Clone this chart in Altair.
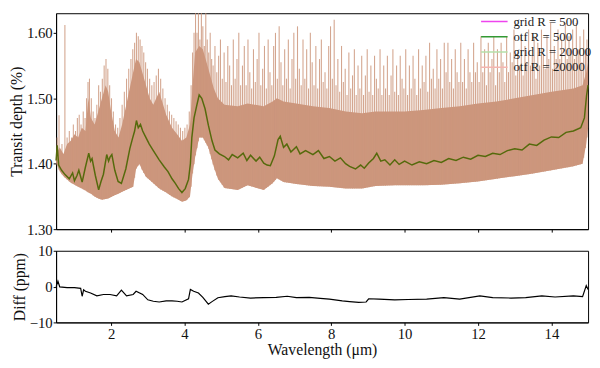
import altair as alt
import pandas as pd
import numpy as np

# ---------------- data ----------------
# R = 500 spectrum (grid and otf overlap -> one dark olive line)
w500 = [0.50, 0.53, 0.57, 0.65, 0.75, 0.86, 0.95, 1.00, 1.07, 1.12, 1.21, 1.30, 1.39, 1.44, 1.48,
        1.57, 1.66, 1.72, 1.79, 1.88, 1.93, 1.97, 2.02, 2.10, 2.19, 2.28, 2.40, 2.51, 2.58, 2.64,
        2.69, 2.74, 2.80, 2.86, 2.95, 3.04, 3.15, 3.31, 3.45, 3.55, 3.66, 3.75, 3.84, 3.93, 4.02,
        4.11, 4.16, 4.20, 4.26, 4.33, 4.40, 4.47, 4.56, 4.65, 4.75, 4.83, 4.95, 5.09, 5.20, 5.30,
        5.45, 5.60, 5.70, 5.80, 5.95, 6.05, 6.16, 6.25, 6.34, 6.45, 6.55, 6.61, 6.70, 6.79, 6.90,
        7.05, 7.15, 7.30, 7.50, 7.65, 7.80, 7.95, 8.10, 8.25, 8.39, 8.50, 8.66, 8.80, 8.90, 9.02,
        9.15, 9.24, 9.35, 9.46, 9.60, 9.73, 9.85, 10.0, 10.2, 10.4, 10.6, 10.8, 11.0, 11.2, 11.4,
        11.6, 11.8, 12.0, 12.2, 12.4, 12.6, 12.8, 13.0, 13.2, 13.4, 13.6, 13.8, 14.0, 14.2, 14.4,
        14.6, 14.8, 14.9, 14.96, 15.0]
v500 = [1.405, 1.428, 1.398, 1.390, 1.383, 1.377, 1.386, 1.374, 1.382, 1.390, 1.372, 1.395, 1.416, 1.404, 1.408,
        1.382, 1.360, 1.372, 1.384, 1.414, 1.404, 1.410, 1.414, 1.390, 1.373, 1.370, 1.392, 1.423, 1.438, 1.450,
        1.466, 1.455, 1.460, 1.450, 1.440, 1.430, 1.420, 1.406, 1.395, 1.388, 1.377, 1.370, 1.362, 1.356, 1.362,
        1.376, 1.400, 1.440, 1.470, 1.488, 1.505, 1.500, 1.484, 1.459, 1.435, 1.421, 1.415, 1.411, 1.406, 1.414,
        1.409, 1.416, 1.405, 1.413, 1.404, 1.410, 1.401, 1.398, 1.397, 1.412, 1.437, 1.442, 1.425, 1.430, 1.418,
        1.426, 1.415, 1.420, 1.414, 1.420, 1.408, 1.411, 1.404, 1.409, 1.400, 1.396, 1.392, 1.398, 1.393, 1.401,
        1.408, 1.416, 1.404, 1.406, 1.398, 1.406, 1.399, 1.404, 1.398, 1.403, 1.400, 1.405, 1.402, 1.408, 1.405,
        1.410, 1.407, 1.413, 1.411, 1.416, 1.414, 1.420, 1.423, 1.421, 1.430, 1.428, 1.436, 1.441, 1.440, 1.448,
        1.450, 1.455, 1.470, 1.505, 1.520]

# R = 20000 spectra: dense band (lower / upper envelope of the solid part)
band_w = [0.50, 0.60, 0.70, 0.80, 0.90, 1.00, 1.10, 1.20, 1.30, 1.38, 1.45, 1.55, 1.65, 1.75, 1.85,
          1.92, 2.00, 2.10, 2.20, 2.30, 2.45, 2.60, 2.68, 2.77, 2.85, 2.95, 3.05, 3.15, 3.31, 3.50,
          3.66, 3.80, 3.93, 4.05, 4.15, 4.22, 4.29, 4.40, 4.50, 4.65, 4.80, 4.91, 5.09, 5.45, 5.72,
          6.16, 6.40, 6.52, 6.70, 7.05, 7.50, 7.94, 8.40, 8.84, 9.20, 9.73, 10.0, 10.5, 11.0, 11.5,
          12.0, 12.5, 13.0, 13.5, 14.0, 14.6, 14.85, 14.95, 15.0]
band_lo = [1.402, 1.388, 1.381, 1.376, 1.371, 1.368, 1.365, 1.362, 1.359, 1.356, 1.354, 1.350, 1.347, 1.345, 1.346,
           1.347, 1.349, 1.352, 1.354, 1.357, 1.361, 1.365, 1.392, 1.400, 1.390, 1.380, 1.375, 1.370, 1.362, 1.356,
           1.350, 1.346, 1.342, 1.344, 1.350, 1.385, 1.410, 1.440, 1.440, 1.425, 1.395, 1.377, 1.363, 1.360, 1.367,
           1.360, 1.370, 1.378, 1.372, 1.369, 1.366, 1.365, 1.362, 1.362, 1.366, 1.367, 1.367, 1.367, 1.368, 1.370,
           1.373, 1.377, 1.381, 1.385, 1.390, 1.396, 1.400, 1.430, 1.455]
band_hi = [1.415, 1.425, 1.415, 1.430, 1.435, 1.445, 1.440, 1.455, 1.450, 1.500, 1.470, 1.460, 1.480, 1.500, 1.520,
           1.510, 1.480, 1.450, 1.440, 1.460, 1.500, 1.540, 1.560, 1.555, 1.540, 1.520, 1.500, 1.490, 1.510, 1.475,
           1.455, 1.445, 1.435, 1.440, 1.460, 1.520, 1.570, 1.580, 1.575, 1.545, 1.515, 1.500, 1.490, 1.488, 1.492,
           1.488, 1.495, 1.500, 1.495, 1.492, 1.488, 1.485, 1.480, 1.477, 1.480, 1.480, 1.480, 1.482, 1.485, 1.488,
           1.492, 1.495, 1.500, 1.505, 1.510, 1.515, 1.520, 1.540, 1.555]

# narrow line spikes of the R = 20000 spectra
spike_w = [0.53, 0.58, 0.66, 0.74, 0.80, 0.86, 0.92, 0.97, 1.03, 1.08, 1.13, 1.18, 1.24, 1.29, 1.33,
           1.37, 1.41, 1.46, 1.51, 1.56, 1.61, 1.66, 1.71, 1.76, 1.81, 1.86, 1.91, 1.96, 2.01, 2.06,
           2.12, 2.18, 2.24, 2.30, 2.36, 2.42, 2.48, 2.54, 2.59, 2.64, 2.69, 2.74, 2.79, 2.84, 2.89,
           2.94, 2.99, 3.05, 3.11, 3.17, 3.23, 3.29, 3.35, 3.41, 3.47, 3.53, 3.59, 3.65, 3.71, 3.77,
           3.83, 3.89, 3.95, 4.01, 4.07, 4.13, 4.18,
           4.22, 4.26, 4.30, 4.34, 4.38, 4.42, 4.46, 4.50, 4.54, 4.58, 4.62, 4.66, 4.70, 4.74, 4.78,
           4.83, 4.88, 4.93, 4.98, 5.03, 5.08, 5.13, 5.18, 5.23, 5.28, 5.33, 5.38, 5.43, 5.48, 5.53,
           5.58, 5.63, 5.68, 5.73, 5.78, 5.83, 5.88, 5.93, 5.98, 6.03, 6.08, 6.13, 6.18, 6.23, 6.28,
           6.33, 6.38, 6.43, 6.48, 6.53, 6.58, 6.63, 6.68, 6.73, 6.78, 6.83, 6.88, 6.93, 6.98, 7.03,
           7.08, 7.13, 7.18, 7.23, 7.28, 7.33, 7.38, 7.43, 7.48, 7.53, 7.58, 7.63, 7.68, 7.73, 7.78,
           7.83, 7.88, 7.93, 7.98, 8.03, 8.08, 8.13, 8.18, 8.23, 8.28, 8.33, 8.38, 8.43, 8.48, 8.53,
           8.58, 8.63, 8.68, 8.73, 8.78, 8.83, 8.88, 8.93, 8.98, 9.03, 9.08, 9.13, 9.18, 9.23, 9.28,
           9.33, 9.38, 9.43, 9.48, 9.53, 9.58, 9.63, 9.68, 9.73, 9.78, 9.83, 9.88, 9.93, 9.98, 10.03,
           10.08, 10.13, 10.18, 10.23, 10.28, 10.33, 10.38, 10.43, 10.48, 10.53, 10.58, 10.63, 10.68, 10.73, 10.78,
           10.83, 10.88, 10.93, 10.98, 11.03, 11.08, 11.13, 11.18, 11.23, 11.28, 11.33, 11.38, 11.43, 11.48, 11.53,
           11.58, 11.63, 11.68, 11.73, 11.78, 11.83, 11.88, 11.93, 11.98, 12.03, 12.08, 12.13, 12.18, 12.23, 12.28,
           12.33, 12.38, 12.43, 12.48, 12.53, 12.58, 12.63, 12.68, 12.73, 12.78, 12.83, 12.88, 12.93, 12.98, 13.03,
           13.08, 13.13, 13.18, 13.23, 13.28, 13.33, 13.38, 13.43, 13.48, 13.53, 13.58, 13.63, 13.68, 13.73, 13.78,
           13.83, 13.88, 13.93, 13.98, 14.03, 14.08, 14.13, 14.18, 14.23, 14.28, 14.33, 14.38, 14.43, 14.48, 14.53,
           14.58, 14.63, 14.68, 14.73, 14.78, 14.83, 14.88, 14.93, 14.97]
spike_top = [1.440, 1.474, 1.430, 1.612, 1.440, 1.450, 1.440, 1.460, 1.450, 1.470, 1.475, 1.460, 1.480, 1.470, 1.500,
             1.525, 1.530, 1.500, 1.480, 1.470, 1.490, 1.520, 1.510, 1.530, 1.550, 1.560, 1.545, 1.520, 1.500, 1.480,
             1.460, 1.455, 1.470, 1.490, 1.510, 1.530, 1.545, 1.560, 1.575, 1.585, 1.600, 1.595, 1.590, 1.580, 1.570,
             1.555, 1.545, 1.530, 1.520, 1.525, 1.535, 1.545, 1.530, 1.515, 1.500, 1.490, 1.480, 1.475, 1.470, 1.465,
             1.460, 1.455, 1.450, 1.455, 1.460, 1.480, 1.520,
             1.570, 1.600, 1.630, 1.600, 1.630, 1.590, 1.630, 1.610, 1.580, 1.630, 1.590, 1.570, 1.600, 1.560, 1.550,
             1.580, 1.540, 1.565, 1.590, 1.530, 1.570, 1.525, 1.580, 1.550, 1.520, 1.590, 1.530, 1.560, 1.600, 1.520,
             1.550, 1.580, 1.520, 1.590, 1.540, 1.515, 1.575, 1.525, 1.560, 1.600, 1.520, 1.545, 1.580, 1.515, 1.590,
             1.540, 1.520, 1.580, 1.600, 1.530, 1.610, 1.555, 1.520, 1.575, 1.530, 1.590, 1.515, 1.560, 1.600, 1.530,
             1.610, 1.545, 1.520, 1.590, 1.530, 1.575, 1.515, 1.600, 1.555, 1.520, 1.580, 1.515, 1.560, 1.590, 1.525,
             1.540, 1.515, 1.580, 1.610, 1.530, 1.620, 1.520, 1.560, 1.510, 1.580, 1.525, 1.545, 1.505, 1.570, 1.515,
             1.535, 1.575, 1.505, 1.550, 1.515, 1.565, 1.505, 1.535, 1.575, 1.510, 1.550, 1.505, 1.565, 1.530, 1.515,
             1.575, 1.505, 1.550, 1.515, 1.565, 1.505, 1.535, 1.575, 1.510, 1.550, 1.505, 1.565, 1.530, 1.515, 1.575,
             1.505, 1.550, 1.515, 1.565, 1.530, 1.505, 1.575, 1.515, 1.550, 1.525, 1.565, 1.510, 1.585, 1.530, 1.545,
             1.515, 1.575, 1.530, 1.560, 1.515, 1.585, 1.540, 1.585, 1.525, 1.560, 1.515, 1.575, 1.540, 1.525, 1.585,
             1.525, 1.560, 1.515, 1.575, 1.540, 1.525, 1.585, 1.540, 1.555, 1.525, 1.595, 1.540, 1.575, 1.520, 1.585,
             1.540, 1.560, 1.595, 1.520, 1.575, 1.540, 1.585, 1.555, 1.525, 1.595, 1.540, 1.570, 1.555, 1.605, 1.535,
             1.570, 1.550, 1.595, 1.535, 1.580, 1.555, 1.605, 1.550, 1.565, 1.595, 1.530, 1.585, 1.550, 1.605, 1.565,
             1.545, 1.595, 1.560, 1.615, 1.545, 1.580, 1.560, 1.605, 1.560, 1.590, 1.545, 1.615, 1.560, 1.595, 1.575,
             1.605, 1.560, 1.615, 1.575, 1.595, 1.555, 1.605, 1.575, 1.590]

# residual (ppm)
wd = [0.50, 0.55, 0.60, 0.80, 1.00, 1.17, 1.21, 1.25, 1.30, 1.44, 1.61, 1.79, 1.97, 2.15, 2.28,
      2.42, 2.60, 2.68, 2.86, 3.00, 3.15, 3.31, 3.50, 3.66, 3.80, 3.93, 4.11, 4.16, 4.25, 4.38,
      4.50, 4.65, 4.75, 4.91, 5.10, 5.27, 5.50, 5.80, 6.16, 6.50, 6.80, 7.05, 7.40, 7.70, 7.95,
      8.30, 8.50, 8.75, 8.95, 9.02, 9.30, 9.73, 10.1, 10.6, 11.07, 11.5, 12.05, 12.4, 12.9, 13.3,
      13.74, 14.1, 14.6, 14.85, 14.95, 15.0]
vd = [0.0, 1.5, -0.1, -0.3, -0.3, -0.5, -2.7, -0.9, -1.3, -1.8, -2.6, -2.2, -2.2, -2.6, -1.0,
      -2.6, -2.2, -1.3, -2.2, -3.7, -4.1, -4.3, -4.0, -4.0, -4.1, -4.3, -3.4, -0.8, -1.3, -1.8,
      -3.0, -4.9, -4.2, -3.1, -2.8, -2.6, -2.9, -3.2, -3.1, -3.0, -2.7, -3.1, -3.0, -3.3, -3.5,
      -4.0, -4.2, -4.4, -4.3, -3.4, -3.5, -3.7, -3.6, -3.5, -3.1, -3.5, -2.6, -3.1, -3.2, -3.1,
      -2.6, -2.9, -2.6, -2.8, 0.3, -0.8]

legend_names = ["grid R = 500", "otf R = 500", "grid R = 20000", "otf R = 20000"]
legend_colors = ["#ee44ee", "#339933", "#b5dfa8", "#f5b5b0"]

# ---------------- chart ----------------
FONT = "Liberation Serif"
BAND = "#cc967d"
OLIVE = "#556a0c"
xs = alt.Scale(domain=[0.5, 15.0], nice=False, zero=False)
ys = alt.Scale(domain=[1.30, 1.63], nice=False, zero=False)

band_df = pd.DataFrame({"w": band_w, "lo": band_lo, "hi": band_hi})
spk_df = pd.DataFrame({"w": spike_w, "top": spike_top,
                       "base": np.interp(spike_w, band_w, band_lo)})
r500_df = pd.DataFrame({"w": w500, "v": v500})
diff_df = pd.DataFrame({"w": wd, "v": vd})
leg_df = pd.DataFrame({"series": legend_names, "w": [0.5] * 4, "v": [1.40] * 4})

x_top = alt.X("w:Q", scale=xs, axis=alt.Axis(labels=False, title=None, values=list(range(2, 16, 2))))

area = alt.Chart(band_df).mark_area(color=BAND, opacity=1, interpolate="linear").encode(
    x=x_top,
    y=alt.Y("lo:Q", scale=ys, axis=alt.Axis(title="Transit depth (%)", values=[1.30, 1.40, 1.50, 1.60], format=".2f")),
    y2="hi:Q",
)
spikes = alt.Chart(spk_df).mark_rule(color=BAND, strokeWidth=1.1, opacity=0.85).encode(
    x="w:Q", y="base:Q", y2="top:Q"
)
legend_layer = alt.Chart(leg_df).mark_line(strokeWidth=1.5).encode(
    x="w:Q", y="v:Q",
    color=alt.Color("series:N", sort=legend_names,
                    scale=alt.Scale(domain=legend_names, range=legend_colors),
                    legend=alt.Legend(title=None, orient="none", legendX=432, legendY=2,
                                      symbolType="stroke", symbolSize=729, symbolStrokeWidth=1.6,
                                      labelFont=FONT, labelFontSize=13, labelColor="#222",
                                      clipHeight=13, rowPadding=1.5, labelOffset=5)),
)
line500 = alt.Chart(r500_df).mark_line(color=OLIVE, strokeWidth=1.5).encode(x="w:Q", y="v:Q")

top = alt.layer(area, spikes, legend_layer, line500).properties(width=542, height=220)

bottom = alt.Chart(diff_df).mark_line(color="black", strokeWidth=1.2).encode(
    x=alt.X("w:Q", scale=xs, axis=alt.Axis(title="Wavelength (μm)", values=list(range(2, 16, 2)), format="d")),
    y=alt.Y("v:Q", scale=alt.Scale(domain=[-10, 10], nice=False),
            axis=alt.Axis(title="Diff (ppm)", values=[-10, 0, 10], format="d")),
).properties(width=542, height=73)

chart = alt.vconcat(top, bottom, spacing=5).properties(
    padding={"left": 0, "top": 0, "right": 0, "bottom": 0}
).configure_view(stroke="black", strokeWidth=1).configure_axis(
    grid=False, domainColor="black", tickColor="black", tickSize=3, labelPadding=1,
    labelFont=FONT, labelFontSize=15, labelColor="#111",
    titleFont=FONT, titleFontSize=16, titleFontWeight="normal", titleColor="#111", titlePadding=2,
).configure_axisX(titlePadding=1)

chart.save("out.html", embed_options={"renderer": "svg", "actions": False})
